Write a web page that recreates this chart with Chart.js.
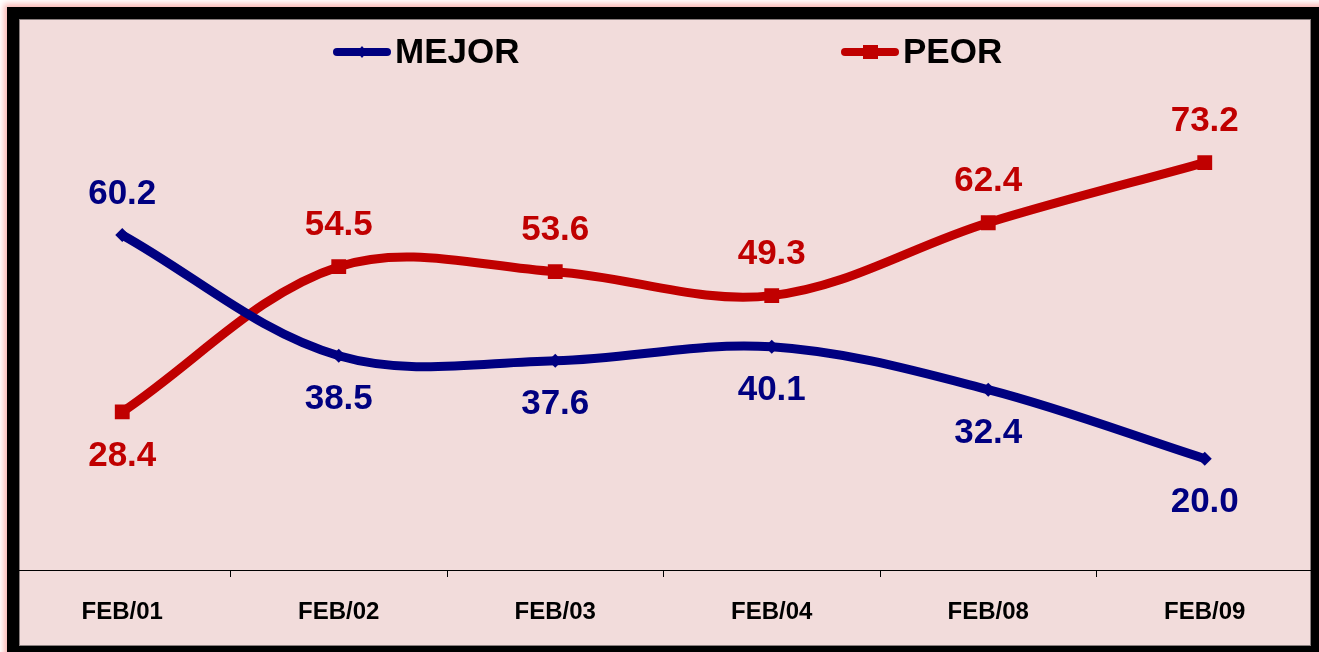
<!DOCTYPE html>
<html>
<head>
<meta charset="utf-8">
<script src="https://cdn.jsdelivr.net/npm/chart.js@4/dist/chart.umd.min.js"></script>
<style>
html, body { margin: 0; padding: 0; background: #fff; overflow: hidden; }
#frame { position: absolute; left: 7px; top: 7px; width: 1320px; height: 650px; background: #000; box-shadow: 0 0 6px 3px rgba(245, 120, 115, 0.55); }
#inner { position: absolute; left: 19px; top: 19px; width: 1290px; height: 625px; background: #f2dcdb; border: 1px solid #8a7f7f; }
#chart { position: absolute; left: 0; top: 0; }
</style>
</head>
<body>
<div id="frame"></div>
<div id="inner"></div>
<canvas id="chart" width="1319" height="652"></canvas>
<script>
const categories = ['FEB/01', 'FEB/02', 'FEB/03', 'FEB/04', 'FEB/08', 'FEB/09'];
const mejor = [60.2, 38.5, 37.6, 40.1, 32.4, 20.0];
const peor = [28.4, 54.5, 53.6, 49.3, 62.4, 73.2];

const BLUE = '#000080';
const RED = '#c00000';
const FONT = 'Arial, "Liberation Sans", sans-serif';

// labels: where each series puts its value text (above / below the point)
const labelSide = [
    ['top', 'bottom', 'bottom', 'bottom', 'bottom', 'bottom'],
    ['bottom', 'top', 'top', 'top', 'top', 'top']
];

let valueLabels = {
    id: 'valueLabels',
    afterDatasetsDraw(chart) {
        let ctx = chart.ctx;
        ctx.save();
        ctx.font = 'bold 35px ' + FONT;
        ctx.textAlign = 'center';
        ctx.textBaseline = 'middle';
        chart.data.datasets.forEach((ds, i) => {
            let meta = chart.getDatasetMeta(i);
            ctx.fillStyle = ds.borderColor;
            meta.data.forEach((pt, j) => {
                let dy = labelSide[i][j] == 'top' ? -41 : 44;
                ctx.fillText(ds.data[j].toFixed(1), pt.x, pt.y + dy);
            });
        });
        ctx.restore();
    }
};

// legend drawn inside the plot, like the original
const legendX = [333, 841];
let innerLegend = {
    id: 'innerLegend',
    afterDraw(chart) {
        let ctx = chart.ctx;
        ctx.save();
        let y = 52;
        chart.data.datasets.forEach((ds, i) => {
            let x = legendX[i];
            ctx.strokeStyle = ds.borderColor;
            ctx.fillStyle = ds.borderColor;
            ctx.lineWidth = 8;
            ctx.lineCap = 'round';
            ctx.beginPath();
            ctx.moveTo(x + 4, y);
            ctx.lineTo(x + 54, y);
            ctx.stroke();
            let mx = x + 29;
            if (ds.pointStyle == 'rectRot') {
                ctx.beginPath();
                ctx.moveTo(mx, y - 6);
                ctx.lineTo(mx + 5, y);
                ctx.lineTo(mx, y + 6);
                ctx.lineTo(mx - 5, y);
                ctx.closePath();
                ctx.fill();
            } else {
                ctx.fillRect(mx - 7, y - 7, 15, 14);
            }
            ctx.fillStyle = '#000';
            ctx.font = 'bold 35px ' + FONT;
            ctx.textBaseline = 'middle';
            ctx.textAlign = 'left';
            ctx.fillText(ds.label, x + 62, y + 1);
        });
        ctx.restore();
    }
};

let chart = new Chart('chart', {
    type: 'line',
    data: {
        labels: categories,
        datasets: [{
            label: 'MEJOR',
            data: mejor,
            borderColor: BLUE,
            backgroundColor: BLUE,
            borderWidth: 9,
            pointStyle: 'rectRot',
            pointRadius: 7,
            pointBorderWidth: 0,
            tension: 0.35
        }, {
            label: 'PEOR',
            data: peor,
            borderColor: RED,
            backgroundColor: RED,
            borderWidth: 9,
            pointStyle: 'rect',
            pointRadius: 10.5,
            pointBorderWidth: 0,
            tension: 0.35
        }]
    },
    options: {
        responsive: false,
        devicePixelRatio: 1,
        animation: false,
        layout: {
            autoPadding: false,
            padding: { left: 14, right: 6, top: 19, bottom: 0 }
        },
        plugins: {
            legend: { display: false },
            tooltip: { enabled: false }
        },
        scales: {
            x: {
                offset: true,
                border: { display: true, color: '#000', width: 1 },
                grid: {
                    offset: true,
                    drawOnChartArea: false,
                    drawTicks: true,
                    tickLength: 7,
                    color: '#000'
                },
                ticks: {
                    color: '#000',
                    padding: 21,
                    font: { family: FONT, size: 24, weight: 'bold' }
                },
                afterFit(scale) {
                    scale.height = 82;
                    scale.paddingLeft = 0;
                    scale.paddingRight = 0;
                }
            },
            y: {
                display: false,
                min: 0,
                max: 99
            }
        }
    },
    plugins: [valueLabels, innerLegend]
});
</script>
</body>
</html>
